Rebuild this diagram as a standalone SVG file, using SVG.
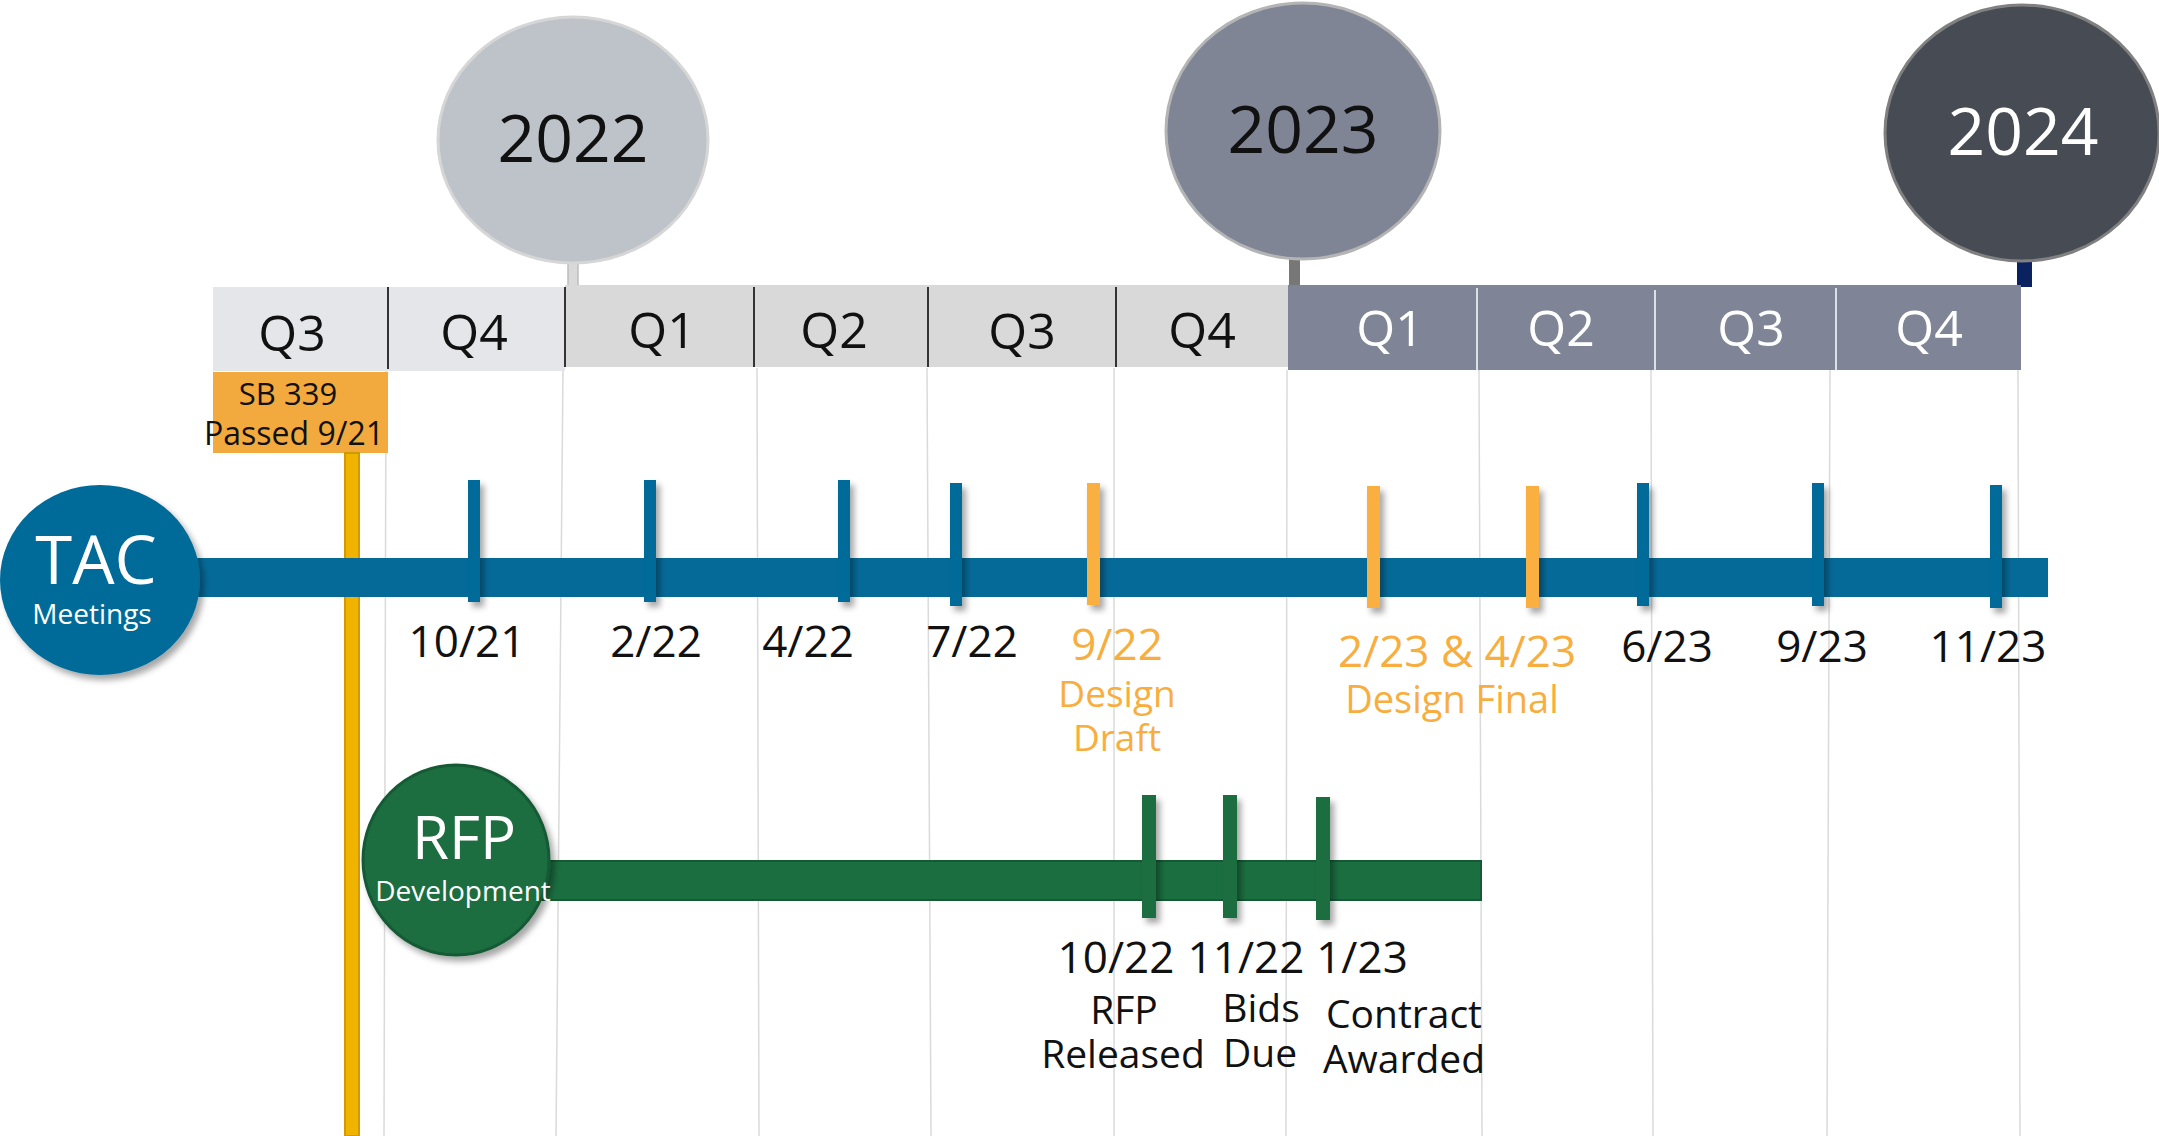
<svg xmlns="http://www.w3.org/2000/svg" width="2159" height="1136" viewBox="0 0 2159 1136">
<defs>
<filter id="sh" x="-30%" y="-30%" width="170%" height="170%"><feDropShadow dx="4" dy="5" stdDeviation="3" flood-color="#000" flood-opacity="0.35"/></filter>
<style>
text{font-family:"Open Sans","Noto Sans","DejaVu Sans",sans-serif;text-anchor:middle}
.grid{stroke:#dadada;stroke-width:1.5}
.yr{font-size:66px}
.q{font-size:50px}
.qd{stroke:#333;stroke-width:2}
.qw{stroke:#fff;stroke-width:1.5}
.dt{font-size:44px;fill:#111}
.or{fill:#f8ae3e}
.bt{fill:#066a99}
.ot{fill:#f9b040}
.gt{fill:#1b6e40}
.lb{font-size:39px;fill:#111}
</style>
</defs>
<rect width="2159" height="1136" fill="#fff"/>
<g id="grid">
<line class="grid" x1="386" y1="371" x2="384" y2="1136"/>
<line class="grid" x1="563" y1="368" x2="556" y2="1136"/>
<line class="grid" x1="757" y1="368" x2="759" y2="1136"/>
<line class="grid" x1="927" y1="368" x2="931" y2="1136"/>
<line class="grid" x1="1114" y1="368" x2="1114" y2="1136"/>
<line class="grid" x1="1287" y1="370" x2="1286" y2="1136"/>
<line class="grid" x1="1479" y1="370" x2="1482" y2="1136"/>
<line class="grid" x1="1651" y1="370" x2="1653" y2="1136"/>
<line class="grid" x1="1830" y1="370" x2="1827" y2="1136"/>
<line class="grid" x1="2018" y1="370" x2="2020" y2="1136"/>
</g>
<g id="connectors">
<rect x="568" y="258" width="10" height="28" fill="#d9d9d9" stroke="#bdbdbd" stroke-width="1.5"/>
<rect x="1289" y="256" width="11" height="33" fill="#777"/>
<rect x="2017" y="258" width="15" height="29" fill="#0b2260"/>
</g>
<g id="year-2022">
<ellipse cx="573" cy="140" rx="135" ry="123" fill="#bec3c9" stroke="#d6d6d6" stroke-width="3"/>
<text class="yr" x="573" y="162" fill="#111">2022</text>
</g>
<g id="year-2023">
<ellipse cx="1303" cy="131" rx="137" ry="128" fill="#7f8595" stroke="#b4b4b4" stroke-width="3"/>
<text class="yr" x="1303" y="153" fill="#111">2023</text>
</g>
<g id="year-2024">
<ellipse cx="2022" cy="133" rx="137" ry="128" fill="#474b54" stroke="#808080" stroke-width="3"/>
<text class="yr" x="2023" y="155" fill="#fff">2024</text>
</g>
<g id="quarters">
<rect x="213" y="287" width="352" height="84" fill="#e4e6ea"/>
<rect x="565" y="285" width="551" height="82" fill="#d9d9d9"/>
<rect x="1116" y="285" width="172" height="82" fill="#d9d9d9"/>
<rect x="1288" y="285" width="733" height="85" fill="#7f8596"/>
<line class="qd" x1="388" y1="287" x2="388" y2="369"/>
<line class="qd" x1="565" y1="287" x2="565" y2="367"/>
<line class="qd" x1="754" y1="287" x2="754" y2="367"/>
<line class="qd" x1="928" y1="287" x2="928" y2="367"/>
<line class="qd" x1="1116" y1="287" x2="1116" y2="367"/>
<line class="qw" x1="1477" y1="288" x2="1477" y2="370"/>
<line class="qw" x1="1655" y1="290" x2="1655" y2="370"/>
<line class="qw" x1="1836" y1="288" x2="1836" y2="370"/>
<text class="q" x="292" y="351" fill="#111">Q3</text>
<text class="q" x="474" y="350" fill="#111">Q4</text>
<text class="q" x="662" y="348" fill="#111">Q1</text>
<text class="q" x="834" y="348" fill="#111">Q2</text>
<text class="q" x="1022" y="349" fill="#111">Q3</text>
<text class="q" x="1202" y="348" fill="#111">Q4</text>
<text class="q" x="1390" y="346" fill="#fff">Q1</text>
<text class="q" x="1561" y="346" fill="#fff">Q2</text>
<text class="q" x="1751" y="346" fill="#fff">Q3</text>
<text class="q" x="1929" y="346" fill="#fff">Q4</text>
</g>
<g id="sb339">
<rect x="213" y="372" width="175" height="81" fill="#f2aa3f"/>
<text x="288" y="405" font-size="31" fill="#111">SB 339</text>
<text x="294" y="445" font-size="32" fill="#111">Passed 9/21</text>
</g>
<g id="sb339-line">
<rect x="345" y="453" width="14" height="683" fill="#efb300" stroke="#d09a00" stroke-width="2"/>
</g>
<g id="tac">
<rect x="180" y="558" width="1868" height="39" fill="#066a99"/>
<g filter="url(#sh)">
<rect class="bt" x="468" y="480" width="12" height="122"/>
<rect class="bt" x="644" y="480" width="12" height="122"/>
<rect class="bt" x="838" y="480" width="12" height="122"/>
<rect class="bt" x="950" y="483" width="12" height="123"/>
<rect class="ot" x="1087" y="483" width="13" height="122"/>
<rect class="ot" x="1367" y="486" width="13" height="122"/>
<rect class="ot" x="1526" y="486" width="13" height="122"/>
<rect class="bt" x="1637" y="483" width="12" height="123"/>
<rect class="bt" x="1812" y="483" width="12" height="123"/>
<rect class="bt" x="1990" y="485" width="12" height="123"/>
</g>
<ellipse cx="100" cy="580" rx="100" ry="95" fill="#066a99" filter="url(#sh)"/>
<text x="96" y="584" font-size="67" fill="#fff">TAC</text>
<text x="92" y="624" font-size="28" fill="#fff">Meetings</text>
</g>
<g id="tac-labels">
<text class="dt" x="467" y="657">10/21</text>
<text class="dt" x="656" y="657">2/22</text>
<text class="dt" x="808" y="657">4/22</text>
<text class="dt" x="972" y="657">7/22</text>
<text class="dt or" x="1117" y="660">9/22</text>
<text class="or" x="1117" y="707" font-size="37">Design</text>
<text class="or" x="1117" y="751" font-size="37">Draft</text>
<text class="dt or" x="1457" y="667">2/23 &amp; 4/23</text>
<text class="or" x="1452" y="713" font-size="38">Design Final</text>
<text class="dt" x="1667" y="662">6/23</text>
<text class="dt" x="1822" y="662">9/23</text>
<text class="dt" x="1988" y="662">11/23</text>
</g>
<g id="rfp">
<rect x="540" y="861" width="941" height="39" fill="#1b6e40" stroke="#155a34" stroke-width="2"/>
<g filter="url(#sh)">
<rect class="gt" x="1142" y="795" width="14" height="123"/>
<rect class="gt" x="1223" y="795" width="14" height="123"/>
<rect class="gt" x="1316" y="797" width="14" height="123"/>
</g>
<ellipse cx="456" cy="860" rx="93" ry="95" fill="#1b6e40" stroke="#155a34" stroke-width="3" filter="url(#sh)"/>
<text x="464" y="859" font-size="60" fill="#fff">RFP</text>
<text x="463" y="901" font-size="28" fill="#fff">Development</text>
</g>
<g id="rfp-labels">
<text class="dt" x="1116" y="973">10/22</text>
<text class="dt" x="1246" y="973">11/22</text>
<text class="dt" x="1362" y="973">1/23</text>
<text class="lb" x="1124" y="1024">RFP</text>
<text class="lb" x="1123" y="1068">Released</text>
<text class="lb" x="1261" y="1022">Bids</text>
<text class="lb" x="1260" y="1067">Due</text>
<text class="lb" x="1404" y="1028">Contract</text>
<text class="lb" x="1404" y="1073">Awarded</text>
</g>
</svg>
